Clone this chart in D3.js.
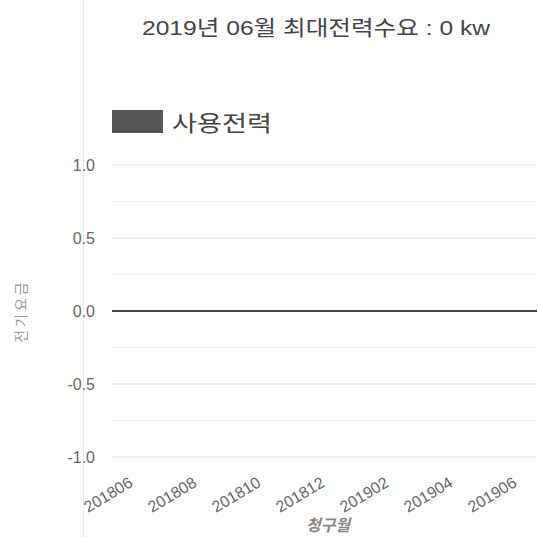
<!DOCTYPE html>
<html>
<head>
<meta charset="utf-8">
<script src="https://cdn.jsdelivr.net/npm/d3@7"></script>
<style>
  html, body { margin: 0; padding: 0; background: #fff; }
  svg { display: block; }
  text { font-family: "Liberation Sans", "Noto Sans CJK KR", sans-serif; }
</style>
</head>
<body>
<svg id="chart" width="538" height="537"></svg>
<script>
// billing months and usage (all zero in the reference)
const months = ["201806", "201807", "201808", "201809", "201810", "201811", "201812",
                "201901", "201902", "201903", "201904", "201905", "201906"];
const usage = [0, 0, 0, 0, 0, 0, 0, 0, 0, 0, 0, 0, 0];
const yTicks = [-1.0, -0.5, 0.0, 0.5, 1.0];
const yMinorTicks = [-0.75, -0.25, 0.25, 0.75];
const titleText = "2019년 06월 최대전력수요 : 0 kw";
const seriesName = "사용전력";
const yTitle = "전기요금";
const xTitle = "청구월";

const width = 538, height = 537;
const margin = { top: 165, right: 0, bottom: 80, left: 110 };
const innerWidth = width - margin.left - margin.right;
const innerHeight = height - margin.top - margin.bottom;
const barColor = "#555";

const svg = d3.select("#chart");

// panel border on the left
svg.append("line")
    .attr("x1", 83.5).attr("x2", 83.5)
    .attr("y1", 0).attr("y2", height)
    .attr("stroke", "#e8e8e8");

const g = svg.append("g")
    .attr("transform", `translate(${margin.left},${margin.top})`);

const xScale = d3.scaleBand()
    .domain(months)
    .range([0, 32 * months.length]);

const yScale = d3.scaleLinear()
    .domain([-1, 1])
    .range([innerHeight, 0]);

// faint minor grid
g.selectAll(".minor")
    .data(yMinorTicks)
    .enter()
    .append("line")
    .attr("class", "minor")
    .attr("x1", 2).attr("x2", innerWidth - 1)
    .attr("y1", d => yScale(d)).attr("y2", d => yScale(d))
    .attr("stroke", "#f2f2f2");

// major grid, zero line darker
g.selectAll(".grid")
    .data(yTicks)
    .enter()
    .append("line")
    .attr("class", "grid")
    .attr("x1", 2).attr("x2", innerWidth - 1)
    .attr("y1", d => yScale(d)).attr("y2", d => yScale(d))
    .attr("stroke", d => d === 0 ? "#444" : "#ddd")
    .attr("stroke-width", d => d === 0 ? 2 : 1);

// y axis labels
const yAxis = d3.axisLeft(yScale)
    .tickValues(yTicks)
    .tickFormat(d => d.toFixed(1))
    .tickSize(0)
    .tickPadding(15);

const yG = g.append("g").call(yAxis);
yG.select(".domain").remove();
yG.selectAll(".tick line").remove();
yG.selectAll(".tick text")
    .style("font-size", "16px")
    .attr("fill", "#666");

// bars (zero height)
g.selectAll(".bar")
    .data(usage)
    .enter()
    .append("rect")
    .attr("class", "bar")
    .attr("x", (d, i) => xScale(months[i]) + xScale.bandwidth() * 0.1)
    .attr("y", d => yScale(Math.max(0, d)))
    .attr("width", xScale.bandwidth() * 0.8)
    .attr("height", d => Math.abs(yScale(d) - yScale(0)))
    .attr("fill", barColor);

// x axis, every second month labelled
const xAxis = d3.axisBottom(xScale)
    .tickValues(months.filter((m, i) => i % 2 === 0))
    .tickSize(0)
    .tickPadding(0);

const xG = g.append("g")
    .attr("transform", `translate(0,${innerHeight})`)
    .call(xAxis);
xG.select(".domain").remove();
xG.selectAll(".tick line").remove();
xG.selectAll(".tick text")
    .attr("x", 2)
    .attr("y", 19)
    .attr("dy", 0)
    .attr("transform", "rotate(-31, 2, 19)")
    .style("text-anchor", "end")
    .style("dominant-baseline", "hanging")
    .style("font-size", "16px")
    .attr("fill", "#666");

// axis titles
const yTitleX = 26, yTitleY = margin.top + yScale(0);
svg.append("text")
    .attr("x", yTitleX)
    .attr("y", yTitleY)
    .attr("transform", `rotate(-90, ${yTitleX}, ${yTitleY})`)
    .attr("text-anchor", "middle")
    .style("font-family", "'Noto Sans CJK KR'")
    .style("font-size", "14px")
    .style("letter-spacing", "3px")
    .attr("fill", "#999")
    .text(yTitle);

svg.append("text")
    .attr("x", 328)
    .attr("y", 531)
    .attr("text-anchor", "middle")
    .style("font-family", "'Noto Sans CJK KR'")
    .style("font-size", "16px")
    .style("font-style", "italic")
    .style("font-weight", "bold")
    .attr("fill", "#888")
    .text(xTitle);

// legend
svg.append("rect")
    .attr("x", 112).attr("y", 110)
    .attr("width", 51).attr("height", 23)
    .attr("fill", barColor);

svg.append("text")
    .attr("x", 172)
    .attr("y", 131)
    .attr("textLength", 100)
    .attr("lengthAdjust", "spacingAndGlyphs")
    .style("font-size", "22px")
    .attr("fill", "#444")
    .text(seriesName);

// title
svg.append("text")
    .attr("x", 142)
    .attr("y", 35)
    .attr("textLength", 348)
    .attr("lengthAdjust", "spacingAndGlyphs")
    .style("font-size", "21px")
    .attr("fill", "#444")
    .text(titleText);
</script>
</body>
</html>
